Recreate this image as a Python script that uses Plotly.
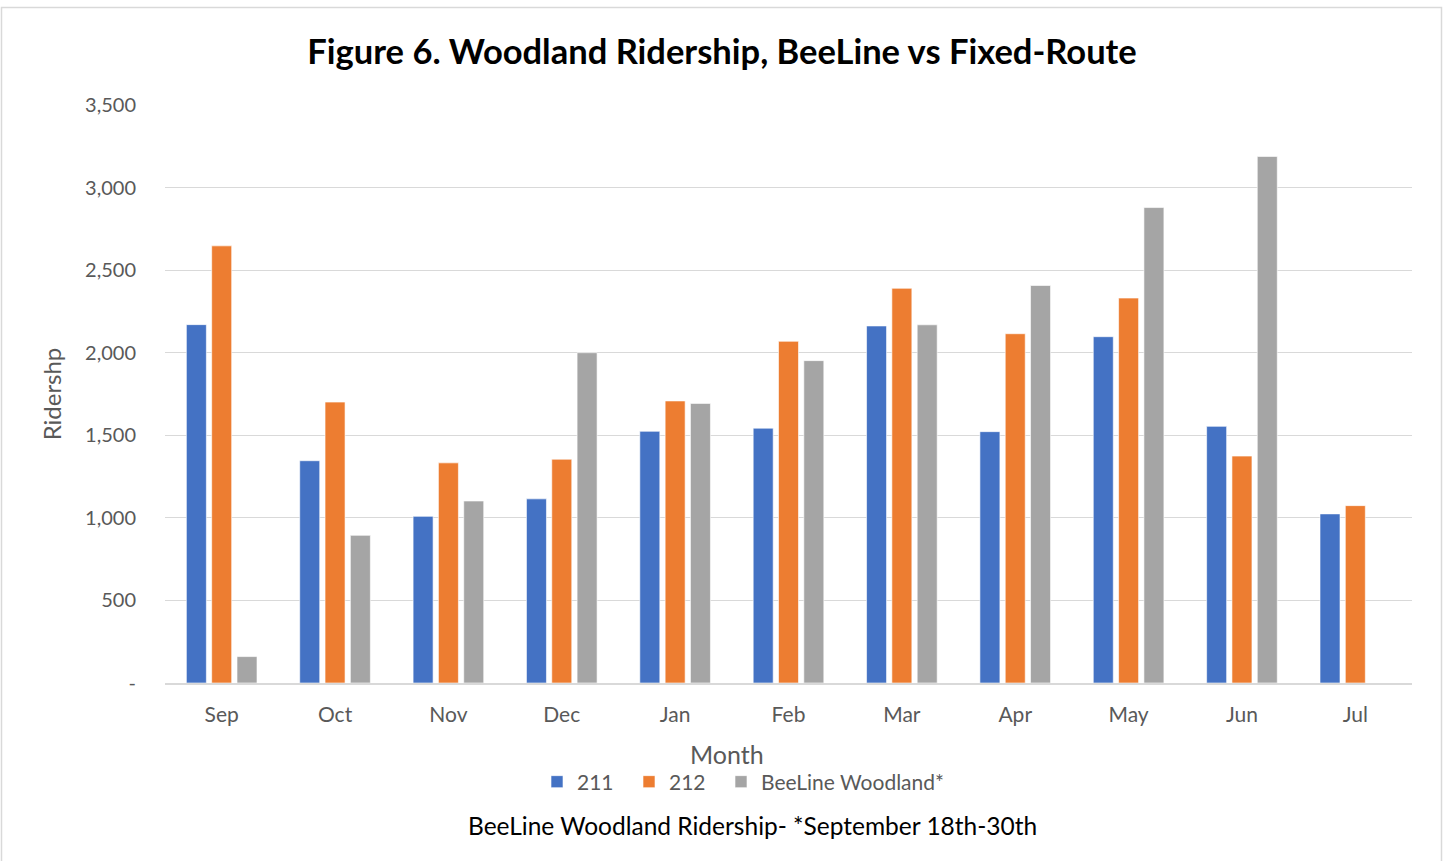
import plotly.graph_objects as go

months = ["Sep", "Oct", "Nov", "Dec", "Jan", "Feb", "Mar", "Apr", "May", "Jun", "Jul"]
route_211 = [2170, 1346, 1009, 1115, 1524, 1543, 2162, 1522, 2097, 1554, 1024]
route_212 = [2647, 1701, 1333, 1355, 1708, 2069, 2390, 2115, 2331, 1374, 1074]
beeline = [160, 894, 1102, 2000, 1693, 1952, 2169, 2407, 2879, 3188, None]

y_tickvals = [0, 500, 1000, 1500, 2000, 2500, 3000, 3500]
y_ticktext = ["-", "500", "1,000", "1,500", "2,000", "2,500", "3,000", "3,500"]

FONT = "Lato"
GRAY_TXT = "#595959"
L, R, T, B = 165, 33, 105, 178
PW, PH = 1445 - L - R, 861 - T - B


def px_x(x):
    return (x - L) / PW


def px_y(y):
    return (861 - B - y) / PH


fig = go.Figure()
fig.add_trace(go.Bar(name="211", x=months, y=route_211, marker_color="#4472C4",
                     marker_line=dict(color="rgba(255,255,255,0.6)", width=1),
                     legend="legend", showlegend=True))
fig.add_trace(go.Bar(name="212", x=months, y=route_212, marker_color="#ED7D31",
                     marker_line=dict(color="rgba(255,255,255,0.6)", width=1),
                     legend="legend2", showlegend=True))
fig.add_trace(go.Bar(name="BeeLine Woodland*", x=months, y=beeline, marker_color="#A5A5A5",
                     marker_line=dict(color="rgba(255,255,255,0.6)", width=1),
                     legend="legend3", showlegend=True))


def leg(xpix):
    return dict(orientation="h", x=px_x(xpix), xanchor="left", y=px_y(782), yanchor="middle",
                font=dict(family=FONT, size=21, color=GRAY_TXT), itemwidth=30,
                bgcolor="rgba(0,0,0,0)")


fig.update_layout(
    width=1445, height=861,
    showlegend=True,
    paper_bgcolor="white", plot_bgcolor="white",
    margin=dict(l=L, r=R, t=T, b=B),
    barmode="group", bargap=0.33, bargroupgap=0.21,
    font=dict(family=FONT, color=GRAY_TXT),
    title=dict(text="<b>Figure 6. Woodland Ridership, BeeLine vs Fixed-Route</b>",
               x=722 / 1445, xanchor="center", y=1 - 52 / 861, yanchor="middle",
               font=dict(family=FONT, size=34.5, color="black")),
    legend=leg(537),
    legend2=leg(629),
    legend3=leg(721),
    xaxis=dict(showline=True, linecolor="#D9D9D9", linewidth=1.5, ticks="",
               ticklabelstandoff=12,
               tickfont=dict(size=21, color=GRAY_TXT)),
    yaxis=dict(range=[0, 3500], tickvals=y_tickvals, ticktext=y_ticktext,
               showgrid=True, gridcolor="#D9D9D9", gridwidth=1, zeroline=False,
               showline=False, ticks="", ticklabelstandoff=28,
               tickfont=dict(size=20, color=GRAY_TXT),
               title=dict(text="Ridershp", font=dict(size=24, color=GRAY_TXT), standoff=16)),
    annotations=[
        dict(text="Month", xref="paper", yref="paper", x=px_x(727), y=px_y(754),
             xanchor="center", yanchor="middle", showarrow=False,
             font=dict(family=FONT, size=25, color=GRAY_TXT)),
        dict(text="BeeLine Woodland Ridership- *September 18th-30th",
             xref="paper", yref="paper", x=px_x(752), y=px_y(825),
             xanchor="center", yanchor="middle", showarrow=False,
             font=dict(family=FONT, size=24.5, color="black")),
    ],
    shapes=[dict(type="rect", xref="paper", yref="paper",
                 x0=px_x(1.5), x1=px_x(1441.5),
                 y0=px_y(870), y1=px_y(7.5),
                 line=dict(color="#D9D9D9", width=1.5), fillcolor="rgba(0,0,0,0)",
                 layer="below")],
)

fig.write_html("out.html")
